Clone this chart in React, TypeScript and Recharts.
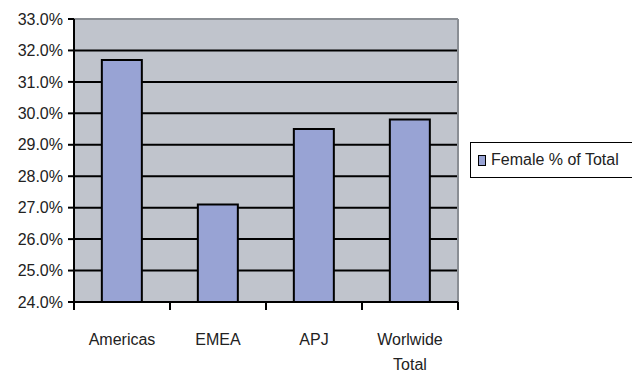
import React from "react";
import { BarChart, Bar, XAxis, YAxis, CartesianGrid } from "recharts";

const categories = ["Americas", "EMEA", "APJ", "Worlwide Total"];
const femalePct = [31.7, 27.1, 29.5, 29.8];
const yTicks = [24, 25, 26, 27, 28, 29, 30, 31, 32, 33];
const seriesName = "Female % of Total";

const data = categories.map((c, i) => ({ name: c, value: femalePct[i] }));

const FONT = "'Liberation Sans', Arial, sans-serif";

const XTick = (props: any) => {
  const { x, y, payload, index } = props;
  const half = payload && payload.offset ? payload.offset : 48;
  const words = String(payload.value).split(" ");
  return (
    <g>
      <line x1={x - half} x2={x - half} y1={y - 8} y2={y} stroke="#000" strokeWidth={2} />
      {index === categories.length - 1 && (
        <line x1={x + half} x2={x + half} y1={y - 8} y2={y} stroke="#000" strokeWidth={2} />
      )}
      <text x={x} y={y + 35} textAnchor="middle" fontFamily={FONT} fontSize={16} fill="#222">
        {words.map((w, i) => (
          <tspan key={i} x={x} dy={i === 0 ? 0 : 25}>
            {w}
          </tspan>
        ))}
      </text>
    </g>
  );
};

export default function App() {
  return (
    <div style={{ position: "absolute", left: 0, top: 0, width: 632, height: 374, background: "#fff" }}>
      <BarChart
        width={632}
        height={374}
        data={data}
        margin={{ top: 19, right: 174, bottom: 32, left: 14 }}
        barCategoryGap="29%"
      >
        <CartesianGrid
          vertical={false}
          stroke="#000"
          strokeWidth={2}
          fill="#C0C4CC"
          fillOpacity={1}
        />
        <CartesianGrid
          stroke="#8A8E94"
          strokeWidth={2}
          horizontalCoordinatesGenerator={({ offset }: any) => [offset.top]}
          verticalCoordinatesGenerator={({ offset }: any) => [offset.left + offset.width]}
        />
        <XAxis
          dataKey="name"
          height={40}
          axisLine={{ stroke: "#000", strokeWidth: 2 }}
          tickLine={false}
          interval={0}
          tick={<XTick />}
        />
        <YAxis
          width={60}
          domain={[24, 33]}
          ticks={yTicks}
          interval={0}
          allowDataOverflow
          axisLine={{ stroke: "#000", strokeWidth: 2 }}
          tickLine={{ stroke: "#000", strokeWidth: 2 }}
          tickSize={6}
          tickMargin={5}
          tickFormatter={(v: number) => v.toFixed(1) + "%"}
          tick={{ fontFamily: FONT, fontSize: 16, fill: "#222" }}
        />
        <Bar
          dataKey="value"
          name={seriesName}
          fill="#98A3D4"
          stroke="#000"
          strokeWidth={2}
          isAnimationActive={false}
        />
      </BarChart>
      <div
        style={{
          position: "absolute",
          left: 470,
          top: 142,
          width: 162,
          height: 36,
          border: "1.5px solid #000",
          borderRight: "none",
          background: "#fff",
          display: "flex",
          alignItems: "center",
          boxSizing: "border-box",
          paddingLeft: 7,
          fontFamily: FONT,
          fontSize: 16,
          color: "#222",
          whiteSpace: "nowrap",
        }}
      >
        <span
          style={{
            display: "inline-block",
            width: 6,
            height: 9,
            background: "#98A3D4",
            border: "1.5px solid #000",
            marginRight: 5,
          }}
        />
        {seriesName}
      </div>
    </div>
  );
}
